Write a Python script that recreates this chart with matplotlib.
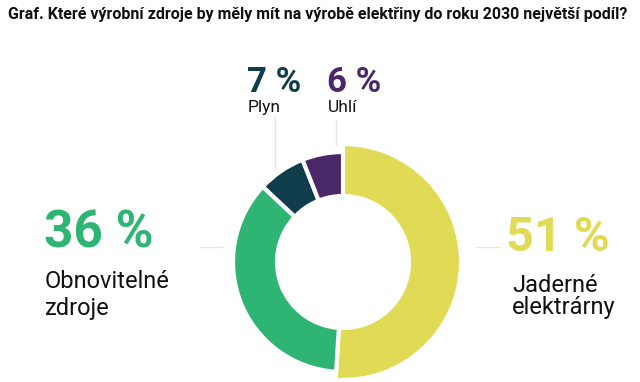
import matplotlib
matplotlib.use("Agg")
import matplotlib.pyplot as plt

# data
labels = ["Jaderné\nelektrárny", "Obnovitelné\nzdroje", "Plyn", "Uhlí"]
values = [51, 36, 7, 6]
colors = ["#E1DA55", "#2EB573", "#0F3D4C", "#4A2868"]
title = "Graf. Které výrobní zdroje by měly mít na výrobě elektřiny do roku 2030 největší podíl?"

W, H = 640, 382
fig = plt.figure(figsize=(W / 100, H / 100), dpi=100)
ax = fig.add_axes([0, 0, 1, 1])

cx, cy = 343, H - 262   # pixel coords, y flipped
r_out, r_in = 110, 66

wedges, _ = ax.pie(values, colors=colors, radius=r_out, center=(cx, cy),
                   startangle=90, counterclock=False,
                   wedgeprops=dict(width=r_out - r_in, edgecolor="white", linewidth=3))
# nuclear slice drawn bigger
wedges[0].set_radius(118)
wedges[0].set_width(118 - r_in)

ax.set_xlim(0, W)
ax.set_ylim(0, H)
ax.set_aspect("equal")
ax.axis("off")

# faint leader lines
lc = "#e6e6e6"
ax.plot([200, 222], [H - 247, H - 247], color=lc, lw=1)
ax.plot([476, 500], [H - 247, H - 247], color=lc, lw=1)
ax.plot([275, 275], [H - 117, H - 168], color=lc, lw=1)
ax.plot([336, 336], [H - 120, H - 145], color=lc, lw=1)

fnt = "Roboto"
ax.text(8, H - 14, title, fontsize=11.5, fontweight="bold", family=fnt,
        ha="left", va="center", color="#111111")

# big percentages
ax.text(44, H - 248, f"{values[1]} %", fontsize=37, fontweight="bold", family=fnt,
        color=colors[1], ha="left", va="baseline")
ax.text(506, H - 251, f"{values[0]} %", fontsize=35, fontweight="bold", family=fnt,
        color=colors[0], ha="left", va="baseline")
ax.text(247, H - 92, f"{values[2]} %", fontsize=25, fontweight="bold", family=fnt,
        color=colors[2], ha="left", va="baseline")
ax.text(327, H - 92, f"{values[3]} %", fontsize=25, fontweight="bold", family=fnt,
        color=colors[3], ha="left", va="baseline")

# category names
ax.text(45, H - 288, "Obnovitelné", fontsize=17, family=fnt, color="#111111", va="baseline")
ax.text(45, H - 315, "zdroje", fontsize=17, family=fnt, color="#111111", va="baseline")
ax.text(512, H - 292, "Jaderné", fontsize=17, family=fnt, color="#111111", va="baseline")
ax.text(512, H - 314, "elektrárny", fontsize=17, family=fnt, color="#111111", va="baseline")
ax.text(248, H - 112, "Plyn", fontsize=12.5, family=fnt, color="#111111", va="baseline")
ax.text(328, H - 112, "Uhlí", fontsize=12.5, family=fnt, color="#111111", va="baseline")

fig.savefig("out.png", dpi=100)
